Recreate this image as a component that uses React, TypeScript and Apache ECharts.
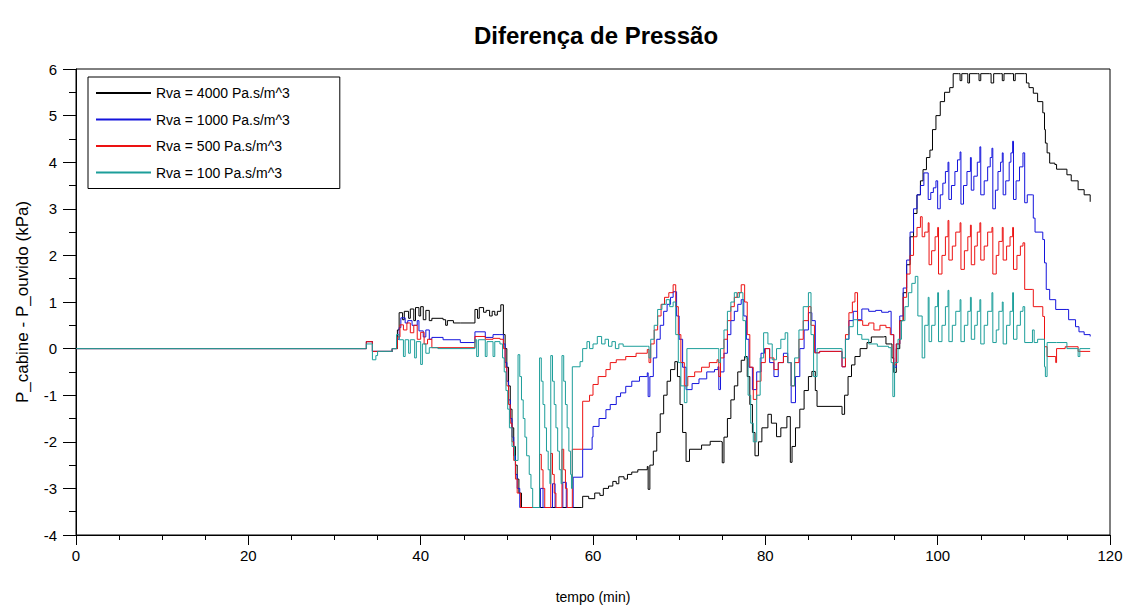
import React, { useEffect, useRef } from "react";
import * as echarts from "echarts";

const TITLE = "Diferença de Pressão";
const X_NAME = "tempo (min)";
const Y_NAME = "P_cabine - P_ouvido (kPa)";
const SERIES_NAMES = [
  "Rva = 4000 Pa.s/m^3",
  "Rva = 1000 Pa.s/m^3",
  "Rva = 500 Pa.s/m^3",
  "Rva = 100 Pa.s/m^3",
];
const SERIES_COLORS = ["#000000", "#1414dc", "#ec1212", "#1c9e9a"];

// [tempo (min), diferença (kPa)]
const rva4000: number[][] = [
  [0, 0], [33.6, 0], [33.7, 0.15], [34.4, -0.06], [36.7, 0], [37.3, 0.4], [37.5, 0.77], [37.9, 0.62], [38.1, 0.8],
  [38.6, 0.65], [38.8, 0.85], [39.2, 0.6], [39.4, 0.88], [39.8, 0.7], [40.0, 0.9], [40.3, 0.62], [40.6, 0.82],
  [41.0, 0.6], [41.3, 0.65], [42.6, 0.62], [42.9, 0.5], [43.1, 0.6], [43.8, 0.55], [44.6, 0.55], [46.3, 0.84],
  [46.6, 0.65], [46.8, 0.88], [47.3, 0.78], [47.6, 0.82], [48.0, 0.7], [48.3, 0.8], [48.6, 0.72], [48.9, 0.8],
  [49.3, 0.94], [49.6, 0.3], [49.8, 0.0], [50.0, -0.4], [50.2, -0.8], [50.4, -1.3], [50.6, -1.7], [50.8, -2.1],
  [51.0, -2.5], [51.2, -2.8], [51.4, -3.1], [51.7, -3.41], [58.7, -3.41], [58.8, -3.17], [59.5, -3.22],
  [60.2, -3.1], [60.8, -3.15], [61.2, -3.0], [61.8, -2.95], [62.3, -2.85], [62.7, -2.9], [63.0, -2.75],
  [63.6, -2.8], [64.0, -2.7], [64.5, -2.65], [65.2, -2.6], [66.3, -2.53], [66.4, -3.02], [66.6, -2.5],
  [67.0, -2.2], [67.4, -1.8], [67.8, -1.4], [68.2, -1.0], [68.6, -0.7], [69.0, -0.45], [69.5, -0.28],
  [69.8, -0.6], [70.1, -1.2], [70.4, -1.8], [70.8, -2.42], [71.2, -2.16], [72.6, -2.07], [73.6, -1.99],
  [74.8, -2.0], [75.0, -2.45], [75.2, -1.9], [75.6, -1.5], [76.0, -1.1], [76.4, -0.8], [76.8, -0.5],
  [77.2, -0.25], [77.6, -0.17], [77.9, -0.6], [78.2, -1.2], [78.5, -1.8], [78.8, -2.3], [79.2, -2.0],
  [79.6, -1.7], [80.3, -1.41], [80.7, -1.6], [81.3, -1.89], [81.8, -1.7], [82.5, -1.46], [82.9, -2.44],
  [83.1, -2.1], [83.5, -1.7], [84.0, -1.3], [84.5, -0.9], [85.0, -0.6], [85.4, -0.49], [85.8, -0.9],
  [86.0, -1.24], [88.8, -1.24], [88.9, -1.41], [89.2, -1.0], [89.6, -0.6], [90.0, -0.35], [90.4, -0.17],
  [91.0, 0.0], [91.8, 0.13], [92.3, 0.25], [93.7, 0.26], [94.0, 0.1], [94.5, 0.1], [94.7, -0.2], [94.9, -0.51],
  [95.2, 0.0], [95.6, 0.6], [96.0, 1.2], [96.4, 1.8], [96.8, 2.4], [97.2, 2.9], [97.6, 3.3], [98.0, 3.6],
  [98.3, 3.84], [98.7, 4.1], [99.1, 4.26], [99.4, 4.7], [99.8, 5.0], [100.3, 5.3], [100.8, 5.5], [101.4, 5.6],
  [101.8, 5.9], [102.4, 5.9], [102.6, 5.75], [102.8, 5.9], [103.3, 5.9], [103.5, 5.7], [103.7, 5.9],
  [104.6, 5.9], [104.8, 5.75], [105.0, 5.9], [106.0, 5.9], [106.2, 5.7], [106.5, 5.9], [107.3, 5.9],
  [107.5, 5.75], [107.7, 5.9], [108.6, 5.9], [108.8, 5.75], [109.0, 5.9], [110.1, 5.9], [110.3, 5.7],
  [110.6, 5.6], [111.1, 5.48], [111.6, 5.3], [112.2, 5.06], [112.4, 4.7], [112.5, 4.41], [112.7, 4.2],
  [113.0, 3.98], [113.6, 3.95], [113.8, 3.85], [114.2, 3.85], [115.0, 3.73], [115.5, 3.6], [116.3, 3.41],
  [117.0, 3.3], [117.7, 3.15],
];

const rva1000: number[][] = [
  [0, 0], [33.6, 0], [33.7, 0.15], [34.4, -0.06], [36.7, 0], [37.2, 0.2], [37.5, 0.45], [37.7, 0.66],
  [38.2, 0.55], [38.5, 0.6], [39.0, 0.5], [39.6, 0.6], [39.8, 0.38], [40.3, 0.25], [40.6, 0.4], [41.0, 0.2],
  [41.3, 0.24], [42.6, 0.19], [44.6, 0.13], [46.3, 0.36], [47.5, 0.24], [48.4, 0.3], [49.2, 0.3], [49.6, 0.1],
  [49.8, -0.3], [50.0, -0.7], [50.2, -1.1], [50.4, -1.5], [50.6, -1.9], [50.8, -2.3], [51.0, -2.7], [51.2, -3.0],
  [51.5, -3.41], [53.8, -3.41], [53.9, -3.0], [54.2, -3.41], [55.2, -3.41], [55.3, -2.9], [55.6, -3.41],
  [56.4, -3.41], [56.5, -2.87], [56.9, -3.41], [57.6, -3.41], [57.7, -2.76], [58.7, -2.76], [58.8, -2.16],
  [59.9, -1.9], [60.0, -1.67], [60.7, -1.5], [61.5, -1.31], [62.0, -1.2], [62.7, -1.03], [63.2, -0.95],
  [63.8, -0.81], [64.5, -0.7], [65.4, -0.6], [66.3, -0.52], [66.4, -1.03], [66.6, -0.6], [67.0, -0.2],
  [67.4, 0.2], [67.8, 0.5], [68.2, 0.8], [68.6, 0.95], [69.0, 1.1], [69.3, 1.22], [69.7, 0.7], [70.0, 0.2],
  [70.4, -0.4], [70.8, -0.88], [71.5, -0.75], [72.3, -0.65], [73.2, -0.5], [74.1, -0.45], [74.5, -0.39],
  [74.6, -0.88], [74.8, -0.5], [75.2, -0.1], [75.6, 0.3], [76.0, 0.6], [76.4, 0.8], [76.8, 0.95], [77.2, 1.05],
  [77.5, 0.7], [77.8, 0.2], [78.1, -0.4], [78.5, -0.88], [79.0, -0.5], [79.5, -0.1], [79.9, 0.0], [80.5, -0.3],
  [81.0, -0.6], [81.5, -0.3], [82.1, -0.1], [82.6, -0.3], [83.0, -1.16], [83.5, -0.6], [84.0, 0.0], [84.5, 0.4],
  [85.0, 0.77], [85.4, 0.6], [85.8, -0.09], [86.3, -0.06], [88.8, -0.06], [88.9, -0.39], [89.3, 0.2],
  [89.7, 0.6], [90.2, 0.8], [90.7, 0.62], [91.2, 0.85], [92.0, 0.8], [92.8, 0.82], [93.5, 0.78], [94.3, 0.8],
  [94.6, 0.3], [94.9, -0.4], [95.2, 0.1], [95.6, 0.7], [96.0, 1.3], [96.4, 1.9], [96.8, 2.5], [97.2, 3.0],
  [97.6, 3.3], [98.0, 3.5], [98.4, 3.77], [98.9, 3.2], [99.2, 3.35], [99.5, 3.45], [99.8, 3.6], [100.0, 3.0],
  [100.3, 3.3], [100.6, 3.55], [100.9, 3.8], [101.2, 4.0], [101.3, 3.2], [101.6, 3.5], [102.0, 3.8],
  [102.3, 4.05], [102.6, 4.22], [102.7, 3.1], [103.0, 3.5], [103.4, 3.8], [103.8, 4.1], [103.9, 3.4],
  [104.2, 3.7], [104.6, 4.0], [104.9, 4.33], [105.0, 3.3], [105.4, 3.6], [105.8, 3.9], [106.1, 4.1],
  [106.3, 4.3], [106.4, 3.0], [106.7, 3.4], [107.0, 3.8], [107.3, 4.0], [107.5, 4.2], [107.6, 3.3],
  [107.9, 3.6], [108.3, 4.0], [108.5, 4.2], [108.7, 4.45], [108.8, 3.2], [109.1, 3.6], [109.5, 3.9],
  [109.9, 4.2], [110.1, 3.13], [110.4, 3.3], [111.0, 3.3], [111.1, 2.8], [111.3, 2.5], [112.2, 2.34],
  [112.4, 1.84], [112.6, 1.27], [113.0, 1.05], [113.7, 0.84], [115.0, 0.84], [115.2, 0.62], [116.0, 0.47],
  [116.4, 0.36], [117.0, 0.3], [117.7, 0.26],
];

const rva500: number[][] = [
  [0, 0], [33.6, 0], [33.7, 0.15], [34.4, -0.06], [36.7, 0], [37.3, 0.25], [37.6, 0.51], [38.0, 0.4],
  [38.4, 0.55], [38.8, 0.34], [39.2, 0.5], [39.6, 0.2], [40.0, 0.35], [40.4, 0.1], [40.8, 0.2], [41.3, 0.02],
  [46.3, 0.26], [47.5, 0.2], [48.4, 0.22], [49.2, 0.2], [49.6, 0.0], [49.8, -0.4], [50.0, -0.8], [50.2, -1.2],
  [50.4, -1.6], [50.6, -2.0], [50.8, -2.4], [51.0, -2.8], [51.2, -3.1], [51.6, -3.41], [53.8, -2.27],
  [54.0, -2.6], [54.2, -3.0], [54.4, -3.41], [55.1, -2.25], [55.3, -2.7], [55.5, -3.1], [55.7, -3.41],
  [56.4, -2.16], [56.6, -2.6], [56.8, -3.0], [57.0, -3.41], [57.6, -2.16], [58.7, -2.16], [58.8, -1.13],
  [59.6, -1.0], [60.0, -0.77], [60.6, -0.6], [61.5, -0.45], [62.0, -0.3], [62.7, -0.24], [63.8, -0.17],
  [65.0, -0.1], [66.3, -0.02], [66.5, -0.3], [66.7, 0.1], [67.1, 0.4], [67.5, 0.7], [67.9, 0.95], [68.3, 1.1],
  [68.8, 1.2], [69.3, 1.37], [69.6, 0.9], [69.9, 0.3], [70.2, -0.3], [70.6, -0.8], [71.0, -0.6], [71.8, -0.5],
  [72.6, -0.4], [73.5, -0.3], [74.4, -0.24], [74.6, -0.6], [74.8, -0.2], [75.2, 0.2], [75.6, 0.6], [76.0, 0.9],
  [76.4, 1.1], [76.8, 1.2], [77.2, 1.37], [77.6, 1.0], [77.9, 0.3], [78.2, -0.4], [78.6, -1.09], [79.0, -0.7],
  [79.5, -0.3], [80.0, 0.0], [80.5, -0.2], [81.0, -0.45], [81.5, -0.3], [82.1, -0.17], [82.6, -0.3],
  [83.0, -0.8], [83.4, -0.3], [83.9, 0.2], [84.4, 0.6], [85.0, 0.9], [85.3, 0.5], [85.7, -0.09], [86.3, -0.06],
  [88.8, -0.06], [88.9, -0.39], [89.3, 0.3], [89.7, 0.77], [90.1, 1.0], [90.4, 1.2], [90.7, 0.6], [91.3, 0.5],
  [92.0, 0.55], [92.6, 0.4], [93.3, 0.5], [94.0, 0.45], [94.5, 0.3], [94.9, -0.35], [95.2, 0.1], [95.6, 0.6],
  [96.0, 1.1], [96.4, 1.6], [96.8, 2.0], [97.2, 2.4], [97.6, 2.6], [98.0, 2.83], [98.2, 2.4], [98.5, 2.5],
  [98.9, 2.7], [99.0, 1.8], [99.3, 2.1], [99.7, 2.4], [100.0, 2.6], [100.1, 1.6], [100.5, 2.0], [100.9, 2.4],
  [101.2, 2.75], [101.3, 1.9], [101.7, 2.2], [102.1, 2.5], [102.6, 2.7], [102.7, 1.7], [103.1, 2.1],
  [103.5, 2.4], [103.8, 2.65], [103.9, 1.8], [104.3, 2.2], [104.6, 2.5], [104.9, 2.7], [105.0, 1.9],
  [105.4, 2.2], [105.8, 2.5], [106.3, 2.6], [106.4, 1.6], [106.8, 2.0], [107.1, 2.3], [107.5, 2.6],
  [107.6, 1.9], [108.0, 2.2], [108.4, 2.4], [108.7, 2.6], [108.8, 1.7], [109.2, 2.0], [109.6, 2.2],
  [109.9, 2.27], [110.1, 1.27], [111.0, 1.27], [111.1, 0.9], [112.2, 0.69], [112.4, 0.04], [112.7, -0.17],
  [113.7, -0.3], [113.8, 0.0], [114.8, 0.04], [116.3, -0.06], [117.7, -0.06],
];

const rva100: number[][] = [
  [0, 0], [33.6, 0], [33.7, 0.1], [34.4, -0.24], [34.8, -0.15], [35.0, -0.06], [36.7, 0], [37.2, 0.3],
  [37.5, 0.19], [38.0, -0.17], [38.2, 0.19], [38.6, -0.1], [38.8, 0.19], [39.3, -0.2], [39.5, 0.15],
  [40.0, -0.34], [40.2, 0.1], [40.6, -0.1], [41.0, 0.02], [42.0, 0.0], [46.3, 0.19], [46.5, -0.17],
  [46.7, 0.19], [47.5, -0.17], [47.7, 0.15], [48.4, -0.17], [48.6, 0.15], [49.2, 0.1], [49.5, -0.2],
  [49.7, -0.5], [49.9, -0.9], [50.1, -1.3], [50.3, -1.7], [50.6, -2.1], [50.9, -2.4], [51.3, -0.13],
  [51.5, -0.6], [51.7, -1.1], [51.9, -1.5], [52.1, -1.9], [52.3, -2.3], [52.6, -2.7], [52.8, -3.0],
  [53.0, -3.41], [53.8, -0.2], [54.0, -0.7], [54.2, -1.2], [54.4, -1.7], [54.6, -2.2], [54.8, -2.6],
  [55.0, -2.9], [55.1, -0.15], [55.3, -0.7], [55.5, -1.2], [55.7, -1.7], [55.9, -2.2], [56.1, -2.6],
  [56.3, -2.9], [56.4, -0.15], [56.6, -0.7], [56.8, -1.2], [57.0, -1.7], [57.2, -2.2], [57.4, -2.7],
  [57.5, -3.0], [57.6, -0.39], [58.5, -0.28], [58.8, 0.0], [59.3, 0.15], [59.6, 0.0], [60.0, 0.1],
  [60.5, 0.26], [61.0, 0.1], [61.4, 0.2], [61.8, 0.05], [62.2, 0.15], [62.6, 0.0], [63.0, 0.1], [63.5, 0.05],
  [66.3, 0.05], [66.5, -0.2], [66.7, 0.2], [67.1, 0.5], [67.5, 0.84], [68.0, 0.95], [68.5, 1.05], [68.9, 0.9],
  [69.3, 1.0], [69.6, 0.3], [69.9, -0.3], [70.2, -0.8], [70.6, -1.16], [70.9, 0.0], [74.5, 0.0], [74.6, -0.3],
  [74.8, 0.0], [75.2, 0.4], [75.6, 0.8], [76.0, 1.0], [76.4, 1.2], [76.7, 1.1], [77.0, 1.2], [77.4, 0.6],
  [77.7, -0.2], [78.0, -1.0], [78.3, -1.6], [78.6, -2.0], [79.0, -1.0], [79.4, -0.2], [79.8, 0.34],
  [80.3, 0.1], [80.8, -0.24], [81.3, 0.0], [81.8, 0.2], [82.3, 0.34], [82.6, -0.3], [83.0, -0.8], [83.4, -0.2],
  [83.9, 0.4], [84.4, 0.9], [85.0, 1.2], [85.3, 0.3], [85.6, -0.6], [86.0, 0.0], [88.8, 0.0], [88.9, -0.2],
  [89.3, 0.2], [89.7, 0.47], [90.2, 0.62], [90.7, 0.3], [91.2, 0.2], [92.0, 0.1], [93.0, 0.05], [94.3, 0.02],
  [94.6, -0.3], [94.8, -1.03], [95.0, -0.3], [95.4, 0.2], [95.8, 0.6], [96.2, 0.9], [96.6, 1.2], [97.0, 1.4],
  [97.4, 1.55], [97.7, 0.7], [98.2, -0.2], [98.5, 0.5], [98.9, 1.1], [99.0, 0.15], [99.3, 0.5], [99.7, 0.9],
  [100.0, 1.2], [100.1, 0.15], [100.5, 0.5], [100.9, 0.9], [101.2, 1.25], [101.3, 0.15], [101.7, 0.5],
  [102.1, 0.8], [102.6, 1.05], [102.7, 0.15], [103.1, 0.5], [103.5, 0.8], [103.8, 1.1], [103.9, 0.2],
  [104.3, 0.5], [104.6, 0.8], [104.9, 1.05], [105.0, 0.1], [105.4, 0.5], [105.8, 0.8], [106.3, 1.2],
  [106.4, 0.13], [106.8, 0.4], [107.1, 0.8], [107.5, 1.0], [107.6, 0.1], [108.0, 0.5], [108.4, 0.8],
  [108.7, 1.2], [108.8, 0.2], [109.2, 0.5], [109.6, 0.8], [109.9, 0.9], [110.1, 0.13], [111.0, 0.4],
  [111.2, 0.13], [111.6, 0.2], [112.4, -0.39], [112.5, -0.6], [112.7, 0.13], [113.8, 0.13], [115.0, 0.0],
  [116.3, -0.17], [116.5, 0.0], [117.7, 0.0],
];

const SERIES_DATA = [rva4000, rva1000, rva500, rva100];

const X_MIN = 0;
const X_MAX = 120;
const X_STEP = 20;
const Y_MIN = -4;
const Y_MAX = 6;
const Y_STEP = 1;

export default function App() {
  const ref = useRef<HTMLDivElement>(null);

  useEffect(() => {
    if (!ref.current) return;
    const chart = echarts.init(ref.current, null, { renderer: "svg" });
    const sans = "'Liberation Sans', Arial, sans-serif";
    chart.setOption({
      animation: false,
      backgroundColor: "#ffffff",
      title: {
        text: TITLE,
        left: 591,
        top: 18,
        textAlign: "center",
        textStyle: { fontFamily: sans, fontSize: 24, fontWeight: "bold", color: "#000" },
      },
      legend: {
        orient: "vertical",
        left: 88,
        top: 77,
        itemWidth: 55,
        itemHeight: 14,
        itemGap: 12.5,
        padding: [9, 50, 9, 7],
        borderColor: "#000",
        borderWidth: 1,
        backgroundColor: "#fff",
        itemStyle: { opacity: 0 },
        textStyle: { fontFamily: sans, fontSize: 14, color: "#000" },
        data: SERIES_NAMES,
      },
      grid: { left: 76, right: 17, top: 69, bottom: 73, show: true, borderColor: "#000", borderWidth: 1, backgroundColor: "transparent" },
      xAxis: {
        type: "value",
        min: X_MIN,
        max: X_MAX,
        interval: X_STEP,
        name: X_NAME,
        nameLocation: "middle",
        nameGap: 55,
        nameTextStyle: { fontFamily: sans, fontSize: 14, color: "#000" },
        axisLine: { show: true, onZero: false, lineStyle: { color: "#000", width: 1 } },
        axisTick: { show: true, length: 10, lineStyle: { color: "#000" } },
        minorTick: { show: true, splitNumber: 4, length: 5, lineStyle: { color: "#000" } },
        splitLine: { show: false },
        axisLabel: { fontFamily: sans, fontSize: 15, color: "#000", margin: 13 },
      },
      yAxis: {
        type: "value",
        min: Y_MIN,
        max: Y_MAX,
        interval: Y_STEP,
        name: Y_NAME,
        nameLocation: "middle",
        nameGap: 45,
        nameTextStyle: { fontFamily: sans, fontSize: 17, color: "#000" },
        axisLine: { show: true, onZero: false, lineStyle: { color: "#000", width: 1 } },
        axisTick: { show: true, length: 13, lineStyle: { color: "#000" } },
        minorTick: { show: true, splitNumber: 2, length: 7, lineStyle: { color: "#000" } },
        splitLine: { show: false },
        axisLabel: { fontFamily: sans, fontSize: 15, color: "#000", margin: 19 },
      },
      series: SERIES_NAMES.map((name, i) => ({
        name,
        type: "line",
        step: "end",
        symbol: "none",
        showSymbol: false,
        color: SERIES_COLORS[i],
        lineStyle: { color: SERIES_COLORS[i], width: 1 },
        data: SERIES_DATA[i],
        z: 2 + i,
      })),
    });
    return () => chart.dispose();
  }, []);

  return (
    <div
      ref={ref}
      style={{ position: "fixed", left: 0, top: 0, width: 1127, height: 609, background: "#fff" }}
    />
  );
}
